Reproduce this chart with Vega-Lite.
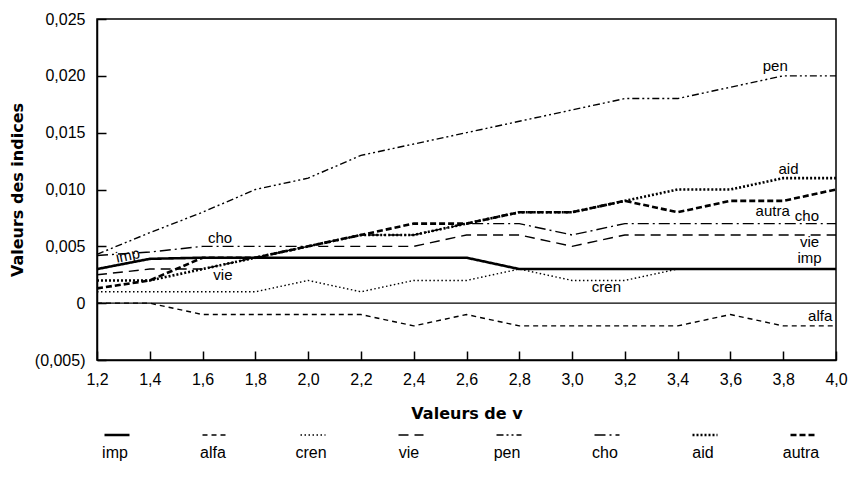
{
"$schema":"https://vega.github.io/schema/vega-lite/v6.json",
"width":739,"height":341,
"autosize":{"type":"none"},
"padding":{"left":97,"top":19,"right":15,"bottom":117},
"background":"white",
"config":{"font":"Liberation Sans","view":{"stroke":"black","strokeWidth":1.5},
 "axis":{"grid":false,"domainColor":"black","domainWidth":1.5,"tickColor":"black","tickWidth":1.5,"labelColor":"black","titleColor":"black","labelFontSize":16,"titleFontSize":16,"titleFontWeight":"bold","labelFont":"Liberation Sans","titleFont":"DejaVu Sans"}},
"datasets":{
"series":[
{"v":1.2,"serie":"imp","val":0.003},{"v":1.4,"serie":"imp","val":0.0039},{"v":1.6,"serie":"imp","val":0.004},{"v":1.8,"serie":"imp","val":0.004},{"v":2.0,"serie":"imp","val":0.004},{"v":2.2,"serie":"imp","val":0.004},{"v":2.4,"serie":"imp","val":0.004},{"v":2.6,"serie":"imp","val":0.004},{"v":2.8,"serie":"imp","val":0.003},{"v":3.0,"serie":"imp","val":0.003},{"v":3.2,"serie":"imp","val":0.003},{"v":3.4,"serie":"imp","val":0.003},{"v":3.6,"serie":"imp","val":0.003},{"v":3.8,"serie":"imp","val":0.003},{"v":4.0,"serie":"imp","val":0.003},
{"v":1.2,"serie":"alfa","val":0},{"v":1.4,"serie":"alfa","val":0},{"v":1.6,"serie":"alfa","val":-0.001},{"v":1.8,"serie":"alfa","val":-0.001},{"v":2.0,"serie":"alfa","val":-0.001},{"v":2.2,"serie":"alfa","val":-0.001},{"v":2.4,"serie":"alfa","val":-0.002},{"v":2.6,"serie":"alfa","val":-0.001},{"v":2.8,"serie":"alfa","val":-0.002},{"v":3.0,"serie":"alfa","val":-0.002},{"v":3.2,"serie":"alfa","val":-0.002},{"v":3.4,"serie":"alfa","val":-0.002},{"v":3.6,"serie":"alfa","val":-0.001},{"v":3.8,"serie":"alfa","val":-0.002},{"v":4.0,"serie":"alfa","val":-0.002},
{"v":1.2,"serie":"cren","val":0.001},{"v":1.4,"serie":"cren","val":0.001},{"v":1.6,"serie":"cren","val":0.001},{"v":1.8,"serie":"cren","val":0.001},{"v":2.0,"serie":"cren","val":0.002},{"v":2.2,"serie":"cren","val":0.001},{"v":2.4,"serie":"cren","val":0.002},{"v":2.6,"serie":"cren","val":0.002},{"v":2.8,"serie":"cren","val":0.003},{"v":3.0,"serie":"cren","val":0.002},{"v":3.2,"serie":"cren","val":0.002},{"v":3.4,"serie":"cren","val":0.003},{"v":3.6,"serie":"cren","val":0.003},{"v":3.8,"serie":"cren","val":0.003},{"v":4.0,"serie":"cren","val":0.003},
{"v":1.2,"serie":"vie","val":0.0025},{"v":1.4,"serie":"vie","val":0.003},{"v":1.6,"serie":"vie","val":0.003},{"v":1.8,"serie":"vie","val":0.004},{"v":2.0,"serie":"vie","val":0.005},{"v":2.2,"serie":"vie","val":0.005},{"v":2.4,"serie":"vie","val":0.005},{"v":2.6,"serie":"vie","val":0.006},{"v":2.8,"serie":"vie","val":0.006},{"v":3.0,"serie":"vie","val":0.005},{"v":3.2,"serie":"vie","val":0.006},{"v":3.4,"serie":"vie","val":0.006},{"v":3.6,"serie":"vie","val":0.006},{"v":3.8,"serie":"vie","val":0.006},{"v":4.0,"serie":"vie","val":0.006},
{"v":1.2,"serie":"pen","val":0.0043},{"v":1.4,"serie":"pen","val":0.0062},{"v":1.6,"serie":"pen","val":0.008},{"v":1.8,"serie":"pen","val":0.010},{"v":2.0,"serie":"pen","val":0.011},{"v":2.2,"serie":"pen","val":0.013},{"v":2.4,"serie":"pen","val":0.014},{"v":2.6,"serie":"pen","val":0.015},{"v":2.8,"serie":"pen","val":0.016},{"v":3.0,"serie":"pen","val":0.017},{"v":3.2,"serie":"pen","val":0.018},{"v":3.4,"serie":"pen","val":0.018},{"v":3.6,"serie":"pen","val":0.019},{"v":3.8,"serie":"pen","val":0.020},{"v":4.0,"serie":"pen","val":0.020},
{"v":1.2,"serie":"cho","val":0.0042},{"v":1.4,"serie":"cho","val":0.0045},{"v":1.6,"serie":"cho","val":0.005},{"v":1.8,"serie":"cho","val":0.005},{"v":2.0,"serie":"cho","val":0.005},{"v":2.2,"serie":"cho","val":0.006},{"v":2.4,"serie":"cho","val":0.006},{"v":2.6,"serie":"cho","val":0.007},{"v":2.8,"serie":"cho","val":0.007},{"v":3.0,"serie":"cho","val":0.006},{"v":3.2,"serie":"cho","val":0.007},{"v":3.4,"serie":"cho","val":0.007},{"v":3.6,"serie":"cho","val":0.007},{"v":3.8,"serie":"cho","val":0.007},{"v":4.0,"serie":"cho","val":0.007},
{"v":1.2,"serie":"aid","val":0.002},{"v":1.4,"serie":"aid","val":0.002},{"v":1.6,"serie":"aid","val":0.003},{"v":1.8,"serie":"aid","val":0.004},{"v":2.0,"serie":"aid","val":0.005},{"v":2.2,"serie":"aid","val":0.006},{"v":2.4,"serie":"aid","val":0.006},{"v":2.6,"serie":"aid","val":0.007},{"v":2.8,"serie":"aid","val":0.008},{"v":3.0,"serie":"aid","val":0.008},{"v":3.2,"serie":"aid","val":0.009},{"v":3.4,"serie":"aid","val":0.010},{"v":3.6,"serie":"aid","val":0.010},{"v":3.8,"serie":"aid","val":0.011},{"v":4.0,"serie":"aid","val":0.011},
{"v":1.2,"serie":"autra","val":0.0013},{"v":1.4,"serie":"autra","val":0.002},{"v":1.6,"serie":"autra","val":0.004},{"v":1.8,"serie":"autra","val":0.004},{"v":2.0,"serie":"autra","val":0.005},{"v":2.2,"serie":"autra","val":0.006},{"v":2.4,"serie":"autra","val":0.007},{"v":2.6,"serie":"autra","val":0.007},{"v":2.8,"serie":"autra","val":0.008},{"v":3.0,"serie":"autra","val":0.008},{"v":3.2,"serie":"autra","val":0.009},{"v":3.4,"serie":"autra","val":0.008},{"v":3.6,"serie":"autra","val":0.009},{"v":3.8,"serie":"autra","val":0.009},{"v":4.0,"serie":"autra","val":0.010}
],
"labels":[
{"lab":"pen","v":3.77,"val":0.0209},
{"lab":"aid","v":3.82,"val":0.0118},
{"lab":"autra","v":3.76,"val":0.0081},
{"lab":"cho","v":3.89,"val":0.0077},
{"lab":"vie","v":3.9,"val":0.0054},
{"lab":"imp","v":3.9,"val":0.0040},
{"lab":"cren","v":3.13,"val":0.0014},
{"lab":"alfa","v":3.94,"val":-0.0011},
{"lab":"cho","v":1.666,"val":0.0057},
{"lab":"vie","v":1.677,"val":0.0025}
],
"labels_rot":[
{"lab":"imp","v":1.317,"val":0.0042}
],
"zero":[{"z":0}]
},
"encoding":{
  "x":{"field":"v","type":"quantitative","scale":{"domain":[1.2,4.0],"nice":false,"zero":false},
   "axis":{"values":[1.2,1.4,1.6,1.8,2.0,2.2,2.4,2.6,2.8,3.0,3.2,3.4,3.6,3.8,4.0],"labelExpr":"replace(format(datum.value,'.1f'),'.',',')","title":"Valeurs de v","tickSize":-9,"labelPadding":20,"titlePadding":18,"labelFlush":false}},
  "y":{"field":"val","type":"quantitative","scale":{"domain":[-0.005,0.025],"nice":false,"zero":false},
   "axis":{"values":[-0.005,0,0.005,0.01,0.015,0.02,0.025],"labelExpr":"datum.value < -0.0001 ? '(' + replace(format(-datum.value,'.3f'),'.',',') + ')' : (abs(datum.value) < 0.0001 ? '0' : replace(format(datum.value,'.3f'),'.',','))","title":"Valeurs des indices","tickSize":-9,"labelPadding":21,"titlePadding":9}}
},
"layer":[
{"data":{"name":"zero"},"mark":{"type":"rule","color":"black","strokeWidth":1.2},
 "encoding":{"x":null,"y":{"field":"z","type":"quantitative"}}},
{"data":{"name":"series"},"transform":[{"filter":{"field":"serie","oneOf":["alfa","cren","vie","pen","cho"]}}],
 "mark":{"type":"line","color":"black","strokeWidth":1.4},
 "encoding":{
  "strokeDash":{"field":"serie","type":"nominal","scale":{"domain":["imp","alfa","cren","vie","pen","cho","aid","autra"],"range":[[1,0],[5,4],[1.5,2.5],[10,6],[7,3,2,3,2,3],[11,4,2,4],[2,2],[6,3]]},
   "legend":{"title":null,"orient":"bottom","direction":"horizontal","columns":8,"symbolType":"stroke","symbolSize":625,"symbolStrokeColor":"black","labelFontSize":16,"labelAlign":"center","labelOffset":-10,"gridAlign":"all","columnPadding":59,"offset":-6,"padding":12,
    "encode":{"labels":{"update":{"dy":{"value":18}}},"symbols":{"update":{"strokeWidth":{"signal":"indexof(['imp','aid','autra'], datum.value) >= 0 ? 2.6 : 1.4"}}}}}}
 }},
{"data":{"name":"series"},"transform":[{"filter":{"field":"serie","oneOf":["imp","aid","autra"]}}],
 "mark":{"type":"line","color":"black","strokeWidth":2.6},
 "encoding":{
  "strokeDash":{"field":"serie","type":"nominal"}
 }},
{"data":{"name":"labels"},"mark":{"type":"text","fontSize":15,"font":"Liberation Sans","color":"black"},
 "encoding":{"text":{"field":"lab"}}},
{"data":{"name":"labels_rot"},"mark":{"type":"text","fontSize":15,"font":"Liberation Sans","color":"black","angle":-12},
 "encoding":{"text":{"field":"lab"}}}
]
}
